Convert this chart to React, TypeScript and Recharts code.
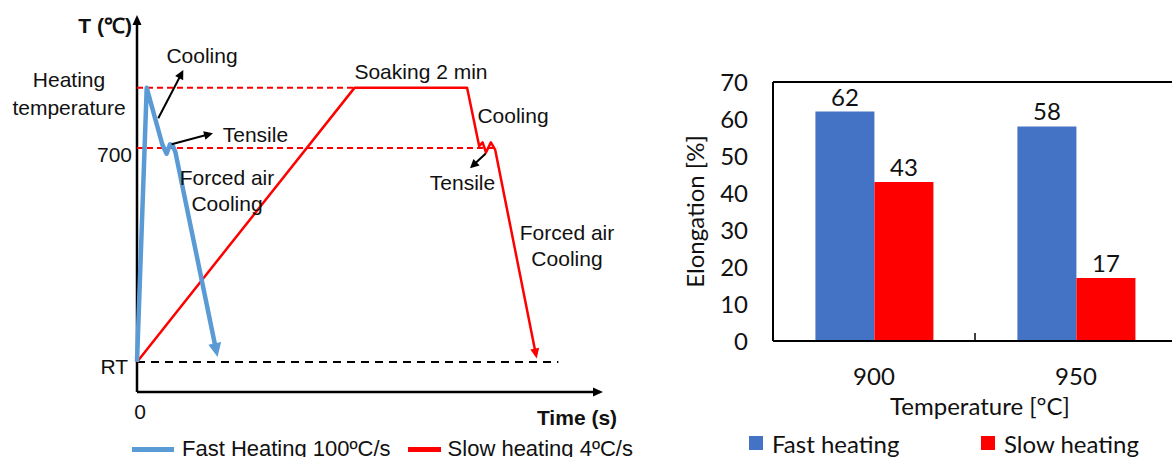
import React from "react";
import {
  Bar,
  BarChart,
  LabelList,
  Legend,
  Line,
  LineChart,
  ReferenceDot,
  ReferenceLine,
  XAxis,
  YAxis,
} from "recharts";

// Left panel: schematic heating profiles, time (s) vs temperature (°C),
// read off the sketch. The last point of each curve sits at the base of
// its arrow head.
const fastProfile = [
  { t: 0, T: 25 },
  { t: 10, T: 890 },
  { t: 26, T: 712 },
  { t: 30.5, T: 682 },
  { t: 34, T: 712 },
  { t: 37, T: 706 },
  { t: 39.5, T: 688 },
  { t: 80.5, T: 77 },
];

const slowProfile = [
  { t: 0, T: 25 },
  { t: 224, T: 890 },
  { t: 340, T: 890 },
  { t: 352.5, T: 706 },
  { t: 356, T: 718 },
  { t: 359.5, T: 686 },
  { t: 364.5, T: 718 },
  { t: 369, T: 694 },
  { t: 410, T: 62 },
];

const RT_T = 25;
const TENSILE_T = 700;
const HEAT_T = 890;
const tempTicks = [RT_T, TENSILE_T, HEAT_T];
const timeTicks = [0];
const TIME_MAX = 480;
const TEMP_MIN = -70;
const TEMP_MAX = 1120;

const FAST_NAME = "Fast Heating 100ºC/s";
const SLOW_NAME = "Slow heating 4ºC/s";

// text notes placed in data space
const notes = [
  { t: 67, T: 991, lines: ["Cooling"] },
  { t: 122, T: 744, lines: ["Tensile"] },
  { t: 92.7, T: 565, lines: ["Forced air", "Cooling"] },
  { t: 292.5, T: 941, lines: ["Soaking 2 min"] },
  { t: 387.3, T: 802, lines: ["Cooling"] },
  { t: 335.3, T: 591, lines: ["Tensile"] },
  { t: 442.9, T: 394, lines: ["Forced air", "Cooling"] },
];

// pointer arrows next to the notes
const pointers = [
  { from: { t: 21.9, T: 794 }, to: { t: 47.7, T: 946 } },
  { from: { t: 35.7, T: 712 }, to: { t: 78.3, T: 747 } },
  { from: { t: 359.2, T: 683 }, to: { t: 343, T: 636 } },
];

// Right panel: elongation by heating temperature
const temps = ["900", "950"];
const fastElong = [62, 58];
const slowElong = [43, 17];
const elongTicks = [0, 10, 20, 30, 40, 50, 60, 70];

const BLUE_LINE = "#5B9BD5";
const BAR_BLUE = "#4472C4";
const RED = "#FF0000";

const ARIAL = '"Liberation Sans", Arial, sans-serif';
const CALIBRI = 'Lato, "Open Sans", sans-serif';

const barRows = temps.map((temp, i) => ({
  temp,
  fast: fastElong[i],
  slow: slowElong[i],
}));

// Arrow drawn on a ReferenceLine segment. back=1 puts the tip on the end
// point, back=0 puts the head's base there.
function arrowShape(
  color: string,
  width: number,
  len: number,
  half: number,
  drawLine: boolean,
  back: number,
) {
  return (p: any) => {
    const { x1, y1, x2, y2 } = p;
    const dx = x2 - x1;
    const dy = y2 - y1;
    const d = Math.hypot(dx, dy) || 1;
    const ux = dx / d;
    const uy = dy / d;
    const bx = x2 - ux * len * back;
    const by = y2 - uy * len * back;
    const tx = bx + ux * len;
    const ty = by + uy * len;
    const pts = `${tx},${ty} ${bx - uy * half},${by + ux * half} ${bx + uy * half},${by - ux * half}`;
    return (
      <g>
        {drawLine && (
          <line
            x1={x1}
            y1={y1}
            x2={bx + ux * 1}
            y2={by + uy * 1}
            stroke={color}
            strokeWidth={width}
          />
        )}
        <polygon points={pts} fill={color} />
      </g>
    );
  };
}

function noteShape(lines: string[]) {
  return (p: any) => {
    const step = 26;
    const top = p.cy - ((lines.length - 1) * step) / 2;
    return (
      <g>
        {lines.map((line, i) => (
          <text
            key={i}
            x={p.cx}
            y={top + i * step}
            textAnchor="middle"
            dominantBaseline="central"
            fontFamily={ARIAL}
            fontSize={21}
            fill="#111"
          >
            {line}
          </text>
        ))}
      </g>
    );
  };
}

function TempTick(props: any) {
  const { x, y, payload } = props;
  const common = {
    fontFamily: ARIAL,
    fontSize: 21,
    fill: "#111",
    dominantBaseline: "central" as const,
  };
  if (payload.value === HEAT_T) {
    return (
      <g>
        <text x={x - 63} y={y - 8} textAnchor="middle" {...common}>
          Heating
        </text>
        <text x={x - 63} y={y + 20} textAnchor="middle" {...common}>
          temperature
        </text>
      </g>
    );
  }
  if (payload.value === TENSILE_T) {
    return (
      <text x={x} y={y + 6} textAnchor="end" {...common}>
        700
      </text>
    );
  }
  return (
    <text x={x - 4} y={y + 5} textAnchor="end" {...common}>
      RT
    </text>
  );
}

function ProfileChart() {
  return (
    <LineChart
      width={640}
      height={457}
      margin={{ top: 15, right: 37, bottom: 35, left: 136 }}
    >
      <XAxis
        type="number"
        dataKey="t"
        domain={[0, TIME_MAX]}
        ticks={timeTicks}
        interval={0}
        height={30}
        tickSize={0}
        tickMargin={12}
        axisLine={false}
        tickLine={false}
        tick={(p: any) => (
          <text
            x={p.x + 3}
            y={p.y}
            dy="0.71em"
            textAnchor="middle"
            fontFamily={ARIAL}
            fontSize={21}
            fill="#111"
          >
            {p.payload.value}
          </text>
        )}
        label={(p: any) => (
          <text
            x={p.viewBox.x + p.viewBox.width - 26}
            y={p.viewBox.y + 25}
            textAnchor="middle"
            dominantBaseline="central"
            fontFamily={ARIAL}
            fontSize={21}
            fontWeight="bold"
            fill="#111"
          >
            Time (s)
          </text>
        )}
      />
      <YAxis
        type="number"
        dataKey="T"
        domain={[TEMP_MIN, TEMP_MAX]}
        ticks={tempTicks}
        interval={0}
        width={1}
        tickSize={0}
        tickMargin={5}
        axisLine={false}
        tickLine={false}
        tick={<TempTick />}
        label={(p: any) => (
          <text
            x={p.viewBox.x - 4}
            y={p.viewBox.y + 10}
            textAnchor="end"
            dominantBaseline="central"
            fontFamily={ARIAL}
            fontSize={21}
            fontWeight="bold"
            fill="#111"
          >
            T (℃)
          </text>
        )}
      />

      {/* axes with arrow heads */}
      <ReferenceLine
        segment={[
          { x: 0, y: TEMP_MIN },
          { x: 0, y: TEMP_MAX },
        ]}
        ifOverflow="visible"
        shape={arrowShape("#000", 2.5, 10, 4.5, true, 1)}
      />
      <ReferenceLine
        segment={[
          { x: 0, y: TEMP_MIN },
          { x: TIME_MAX, y: TEMP_MIN },
        ]}
        ifOverflow="visible"
        shape={arrowShape("#000", 2.5, 10, 4.5, true, 1)}
      />

      {/* guide lines */}
      <ReferenceLine
        segment={[
          { x: 0, y: HEAT_T },
          { x: 224, y: HEAT_T },
        ]}
        stroke={RED}
        strokeWidth={2}
        strokeDasharray="6 4"
        ifOverflow="visible"
      />
      <ReferenceLine
        segment={[
          { x: 0, y: TENSILE_T },
          { x: 371, y: TENSILE_T },
        ]}
        stroke={RED}
        strokeWidth={2}
        strokeDasharray="6 4"
        ifOverflow="visible"
      />
      <ReferenceLine
        segment={[
          { x: 0, y: RT_T },
          { x: 434, y: RT_T },
        ]}
        stroke="#000"
        strokeWidth={2}
        strokeDasharray="8 6"
        ifOverflow="visible"
      />

      <Line
        data={slowProfile}
        dataKey="T"
        name={SLOW_NAME}
        type="linear"
        stroke={RED}
        strokeWidth={2.5}
        strokeLinejoin="round"
        dot={false}
        isAnimationActive={false}
      />
      <Line
        data={fastProfile}
        dataKey="T"
        name={FAST_NAME}
        type="linear"
        stroke={BLUE_LINE}
        strokeWidth={4.5}
        strokeLinejoin="round"
        dot={false}
        isAnimationActive={false}
      />

      {/* arrow heads at the curve ends */}
      <ReferenceLine
        segment={[fastProfile[fastProfile.length - 2], fastProfile[fastProfile.length - 1]].map(
          (p) => ({ x: p.t, y: p.T }),
        )}
        ifOverflow="visible"
        shape={arrowShape(BLUE_LINE, 0, 14, 6.5, false, 0.15)}
      />
      <ReferenceLine
        segment={[slowProfile[slowProfile.length - 2], slowProfile[slowProfile.length - 1]].map(
          (p) => ({ x: p.t, y: p.T }),
        )}
        ifOverflow="visible"
        shape={arrowShape(RED, 0, 10, 4.5, false, 0.15)}
      />

      {pointers.map((a, i) => (
        <ReferenceLine
          key={`ptr-${i}`}
          segment={[
            { x: a.from.t, y: a.from.T },
            { x: a.to.t, y: a.to.T },
          ]}
          ifOverflow="visible"
          shape={arrowShape("#000", 2, 9, 4.5, true, 1)}
        />
      ))}

      {notes.map((n, i) => (
        <ReferenceDot
          key={`note-${i}`}
          x={n.t}
          y={n.T}
          r={0}
          ifOverflow="visible"
          shape={noteShape(n.lines)}
        />
      ))}

      <Legend
        layout="horizontal"
        verticalAlign="middle"
        align="center"
        wrapperStyle={{ top: 436, left: 0, width: 640, height: 26 }}
        content={() => (
          <div
            style={{
              display: "flex",
              alignItems: "center",
              height: 26,
              fontFamily: ARIAL,
              fontSize: 22,
              color: "#111",
              whiteSpace: "nowrap",
            }}
          >
            <span
              style={{ marginLeft: 132, width: 42, height: 5, background: BLUE_LINE }}
            />
            <span style={{ marginLeft: 8 }}>{FAST_NAME}</span>
            <span style={{ marginLeft: 17, width: 33, height: 5, background: RED }} />
            <span style={{ marginLeft: 7 }}>{SLOW_NAME}</span>
          </div>
        )}
      />
    </LineChart>
  );
}

const R_W = 530;
const R_MARGIN = { top: 81, right: 13, bottom: 46, left: 53 };
const R_YW = 60;
const R_TICK_MARGIN = 27;

function TempCategoryTick(props: any) {
  const { x, y, payload, index } = props;
  const bandHalf =
    typeof payload.offset === "number" && payload.offset > 0
      ? payload.offset
      : (R_W - R_MARGIN.left - R_MARGIN.right - R_YW) / temps.length / 2;
  const axisY = y - R_TICK_MARGIN;
  return (
    <g>
      {index > 0 && (
        <line
          x1={x - bandHalf}
          x2={x - bandHalf}
          y1={axisY}
          y2={axisY - 8}
          stroke="#000"
          strokeWidth={1.5}
        />
      )}
      <text
        x={x}
        y={y}
        dy="0.71em"
        textAnchor="middle"
        fontFamily={CALIBRI}
        fontSize={24}
        fill="#111"
      >
        {payload.value}
      </text>
    </g>
  );
}

function ElongationChart() {
  return (
    <BarChart
      width={R_W}
      height={457}
      data={barRows}
      margin={R_MARGIN}
      barCategoryGap="21%"
      barGap={0}
    >
      <XAxis
        dataKey="temp"
        height={70}
        tickSize={0}
        tickMargin={R_TICK_MARGIN}
        tickLine={false}
        axisLine={{ stroke: "#000", strokeWidth: 2 }}
        tick={<TempCategoryTick />}
        interval={0}
        label={(p: any) => (
          <text
            x={p.viewBox.x + p.viewBox.width / 2 + 5}
            y={p.viewBox.y + 64}
            textAnchor="middle"
            dominantBaseline="central"
            fontFamily={CALIBRI}
            fontSize={24}
            fill="#111"
          >
            Temperature [°C]
          </text>
        )}
      />
      <XAxis
        xAxisId="top"
        dataKey="temp"
        orientation="top"
        height={1}
        tick={false}
        tickLine={false}
        axisLine={{ stroke: "#000", strokeWidth: 2 }}
      />
      <YAxis
        width={R_YW}
        domain={[0, 70]}
        ticks={elongTicks}
        interval={0}
        tickSize={0}
        tickMargin={25}
        tickLine={false}
        axisLine={{ stroke: "#000", strokeWidth: 2 }}
        tick={{ fontFamily: CALIBRI, fontSize: 24, fill: "#111" }}
        label={(p: any) => (
          <text
            x={p.viewBox.x - 19}
            y={p.viewBox.y + p.viewBox.height / 2}
            transform={`rotate(-90 ${p.viewBox.x - 19} ${p.viewBox.y + p.viewBox.height / 2})`}
            textAnchor="middle"
            dominantBaseline="central"
            fontFamily={CALIBRI}
            fontSize={24}
            fill="#111"
          >
            Elongation [%]
          </text>
        )}
      />
      <Bar dataKey="fast" name="Fast heating" fill={BAR_BLUE} isAnimationActive={false}>
        <LabelList
          dataKey="fast"
          position="top"
          offset={6}
          fill="#111"
          fontFamily={CALIBRI}
          fontSize={24}
        />
      </Bar>
      <Bar dataKey="slow" name="Slow heating" fill={RED} isAnimationActive={false}>
        <LabelList
          dataKey="slow"
          position="top"
          offset={6}
          fill="#111"
          fontFamily={CALIBRI}
          fontSize={24}
        />
      </Bar>
      <Legend
        layout="horizontal"
        verticalAlign="middle"
        align="center"
        wrapperStyle={{ top: 430, left: 0, width: R_W, height: 26 }}
        content={() => (
          <div
            style={{
              position: "relative",
              height: 26,
              fontFamily: CALIBRI,
              fontSize: 24,
              color: "#111",
              whiteSpace: "nowrap",
            }}
          >
            {[
              { left: 89, color: BAR_BLUE, label: "Fast heating" },
              { left: 321, color: RED, label: "Slow heating" },
            ].map((item) => (
              <div
                key={item.label}
                style={{
                  position: "absolute",
                  left: item.left,
                  top: 0,
                  height: 26,
                  display: "flex",
                  alignItems: "center",
                }}
              >
                <span style={{ width: 14, height: 14, background: item.color }} />
                <span style={{ marginLeft: 9 }}>{item.label}</span>
              </div>
            ))}
          </div>
        )}
      />
    </BarChart>
  );
}

export default function App() {
  return (
    <div
      style={{
        position: "relative",
        width: 1172,
        height: 457,
        overflow: "hidden",
        background: "#fff",
      }}
    >
      <style>{"body{margin:0}"}</style>
      <div style={{ position: "absolute", left: 0, top: 0 }}>
        <ProfileChart />
      </div>
      <div style={{ position: "absolute", left: 660, top: 0 }}>
        <ElongationChart />
      </div>
    </div>
  );
}
